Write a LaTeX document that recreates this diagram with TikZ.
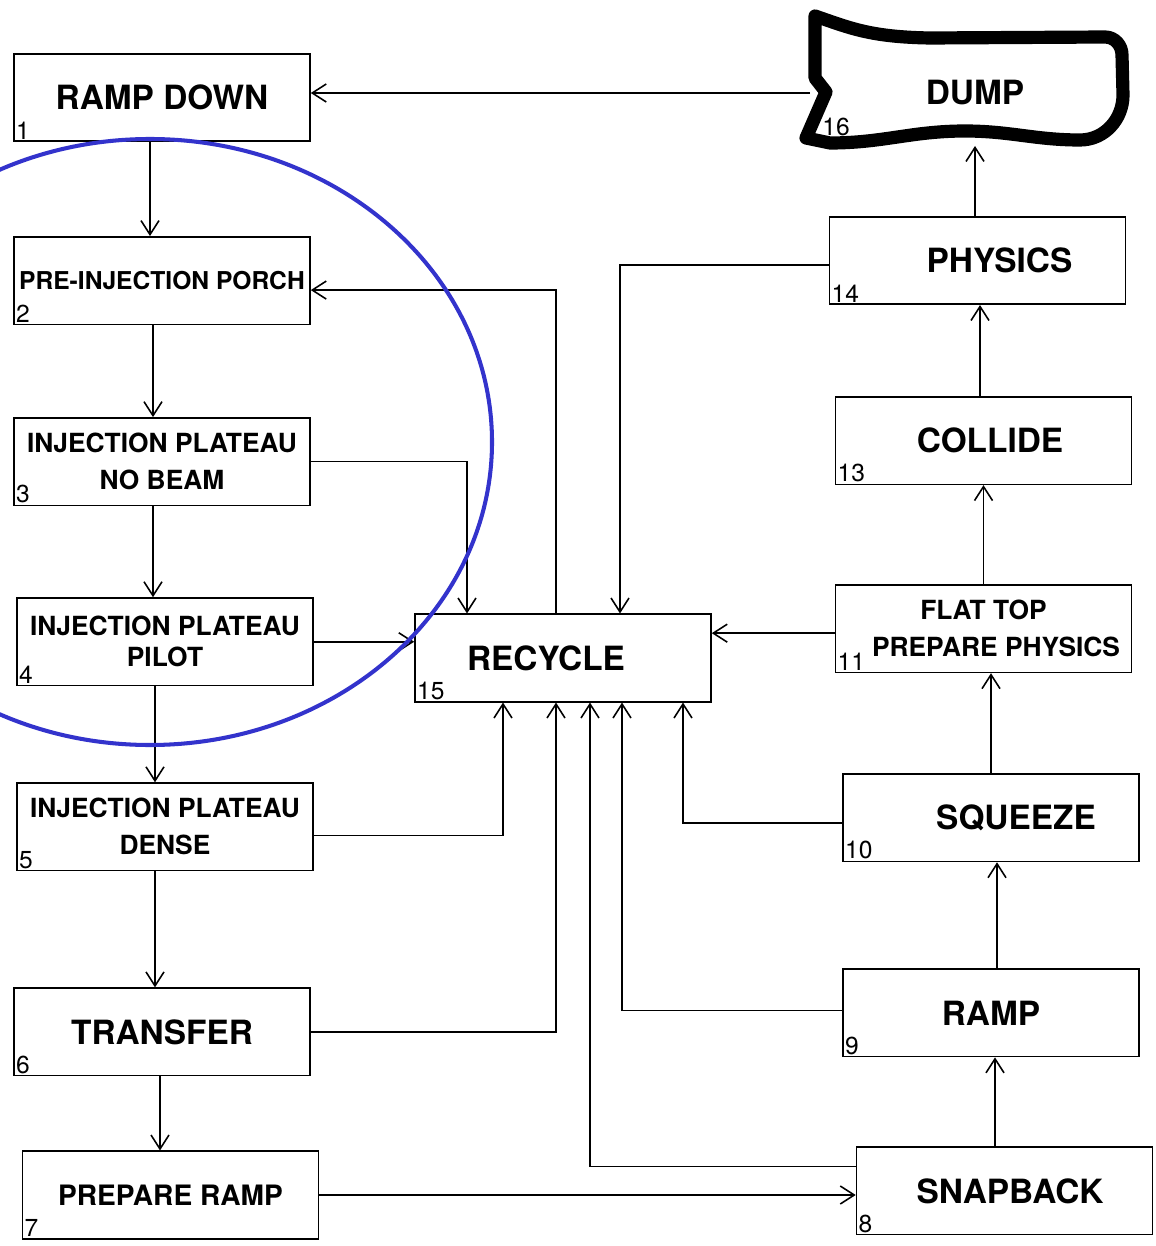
\documentclass[tikz,border=0pt]{standalone}
\usepackage{fontspec}
\setmainfont{TeX Gyre Heros}
\usepackage{tikz}
\usetikzlibrary{arrows.meta,positioning,calc}
\definecolor{ringcolor}{RGB}{51,51,204}

\begin{document}
\begin{tikzpicture}[
    node distance=1.88cm,
    mode/.style={rectangle, draw, line width=0.9pt, minimum width=5.92cm, minimum height=1.75cm, inner sep=0pt, align=center, font=\bfseries\fontsize{19}{22}\selectfont},
    modesmall/.style={mode, font=\bfseries\fontsize{15}{21}\selectfont},
    num/.style={anchor=south west, draw=none, inner sep=1.5pt, minimum size=0pt, font=\mdseries\fontsize{14}{14}\selectfont},
    edge/.style={-{Straight Barb[length=2.8mm,width=3.6mm]}, line width=0.9pt},
    dumpline/.style={line width=7.5pt, line join=round},
    ring/.style={draw=ringcolor, line width=2.3pt}
]
    \useasboundingbox (0,0) rectangle (23.1,-24.92);
    \clip (0,0) rectangle (23.1,-24.92);

    \node[mode, label={[num]south west:1}] (rampdown) at (3.24,-1.95) {RAMP DOWN};
    \node[mode, font=\bfseries\fontsize{14}{16}\selectfont, label={[num]south west:2}, below=of rampdown] (porch) {PRE-INJECTION PORCH};
    \node[modesmall, label={[num]south west:3}, below=1.84cm of porch] (nobeam) {INJECTION PLATEAU\\NO BEAM};
    \node[modesmall, label={[num]south west:4}, below=1.82cm of nobeam, xshift=0.06cm] (pilot) {INJECTION PLATEAU\\[-3.4pt]PILOT};
    \node[modesmall, label={[num]south west:5}, below=1.92cm of pilot] (dense) {INJECTION PLATEAU\\DENSE};
    \node[mode, label={[num]south west:6}, below=2.32cm of dense, xshift=-0.06cm] (transfer) {TRANSFER};
    \node[mode, font=\bfseries\fontsize{16}{18}\selectfont, label={[num]south west:7}, below=1.48cm of transfer, xshift=0.17cm] (prepramp) {PREPARE RAMP};

    \node[mode, label={[num]south west:14}] (physics) at (19.55,-5.21) {\hspace*{0.88cm}PHYSICS};
    \node[mode, label={[num]south west:13}, below=1.82cm of physics, xshift=0.12cm] (collide) {\hspace*{0.26cm}COLLIDE};
    \node[modesmall, label={[num]south west:11}, below=1.98cm of collide] (flattop) {FLAT TOP\\\hspace*{0.5cm}PREPARE PHYSICS};
    \node[mode, label={[num]south west:10}, below=2cm of flattop, xshift=0.15cm] (squeeze) {\hspace*{1cm}SQUEEZE};
    \node[mode, label={[num]south west:9}, below=2.12cm of squeeze] (ramp) {RAMP};
    \node[mode, label={[num]south west:8}, below=1.78cm of ramp, xshift=0.27cm] (snapback) {\hspace*{0.22cm}SNAPBACK};

    \node[mode, label={[num]south west:15}] (recycle) at (11.26,-13.16) {RECYCLE\hspace*{0.68cm}};

    \node[font=\bfseries\fontsize{19}{22}\selectfont] (dump) at (19.5,-1.86) {DUMP};
    \node[font=\fontsize{14}{14}\selectfont, inner sep=0pt] (dumpnum) at (16.72,-2.54) {16};
    \coordinate (dumpin) at (16.2,-1.86);
    \coordinate (dumpbot) at (19.5,-2.92);

    \draw[edge] (dumpin) -- (dumpin -| rampdown.east);
    \draw[edge] ([xshift=-0.24cm]rampdown.south) -- ([xshift=-0.24cm]rampdown.south |- porch.north);
    \draw[edge] ([xshift=-0.18cm]porch.south) -- ([xshift=-0.18cm]porch.south |- nobeam.north);
    \draw[edge] ([xshift=-0.18cm]nobeam.south) -- ([xshift=-0.18cm]nobeam.south |- pilot.north);
    \draw[edge] ([xshift=-0.2cm]pilot.south) -- ([xshift=-0.2cm]pilot.south |- dense.north);
    \draw[edge] ([xshift=-0.2cm]dense.south) -- ([xshift=-0.2cm]dense.south |- transfer.north);
    \draw[edge] ([xshift=-0.04cm]transfer.south) -- ([xshift=-0.04cm]transfer.south |- prepramp.north);
    \draw[edge] (prepramp.east) -- (prepramp.east -| snapback.west);

    \draw[edge] ([xshift=-0.19cm]snapback.north) -- ([xshift=-0.19cm]snapback.north |- ramp.south);
    \draw[edge] ([xshift=0.12cm]ramp.north) -- ([xshift=0.12cm]ramp.north |- squeeze.south);
    \draw[edge] (squeeze.north) -- (squeeze.north |- flattop.south);
    \draw[edge] (flattop.north) -- (flattop.north |- collide.south);
    \draw[edge] ([xshift=-0.07cm]collide.north) -- ([xshift=-0.07cm]collide.north |- physics.south);
    \draw[edge] ([xshift=-0.05cm]physics.north) -- ([xshift=-0.05cm]physics.north |- dumpbot);

    \draw[edge] ([xshift=-0.14cm]recycle.north) |- ([yshift=-0.19cm]porch.east);
    \draw[edge] (nobeam.east) -| ([xshift=-1.92cm]recycle.north);
    \draw[edge] (pilot.east) -- (pilot.east -| recycle.west);
    \draw[edge] ([yshift=-0.17cm]dense.east) -| ([xshift=-1.2cm]recycle.south);
    \draw[edge] (transfer.east) -| ([xshift=-0.14cm]recycle.south);
    \draw[edge] ([yshift=0.49cm]snapback.west) -| ([xshift=0.54cm]recycle.south);
    \draw[edge] ([yshift=0.05cm]ramp.west) -| ([xshift=1.18cm]recycle.south);
    \draw[edge] ([yshift=-0.11cm]squeeze.west) -| ([xshift=2.4cm]recycle.south);
    \draw[edge] ([yshift=-0.09cm]flattop.west) -- ([yshift=-0.09cm]flattop.west -| recycle.east);
    \draw[edge] ([yshift=-0.09cm]physics.west) -| ([xshift=1.14cm]recycle.north);

    \draw[dumpline] (16.3,-0.32) .. controls (17.0,-0.56) and (17.4,-0.74) .. (18.6,-0.76) -- (22.1,-0.74)
        to[out=0,in=90] (22.44,-1.1) -- (22.46,-1.9) to[out=-90,in=0] (21.6,-2.8)
        to[out=180,in=0] (19.3,-2.62) to[out=180,in=0] (16.6,-2.86) -- (16.12,-2.76)
        -- (16.52,-1.84) -- (16.3,-1.56) -- cycle;

    \draw[ring] (3.0,-8.84) ellipse [x radius=6.84cm, y radius=6.06cm];
\end{tikzpicture}
\end{document}
